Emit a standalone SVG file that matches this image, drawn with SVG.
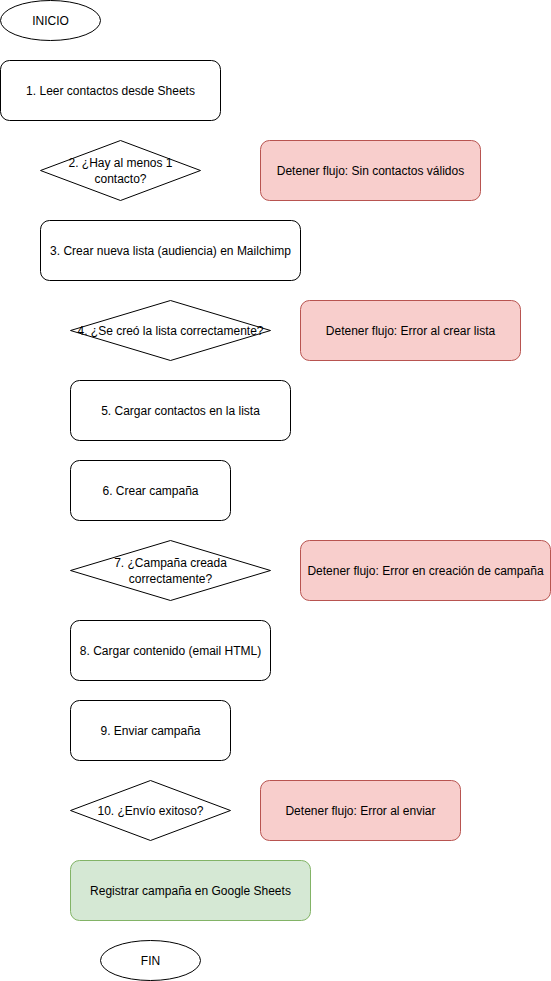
<svg xmlns="http://www.w3.org/2000/svg" width="551" height="981" viewBox="0 0 551 981">
<style>
.n{fill:#ffffff;stroke:#000000;stroke-width:1}
.r{fill:#f8cecc;stroke:#b85450;stroke-width:1}
.g{fill:#d5e8d4;stroke:#82b366;stroke-width:1}
text{font-family:"Liberation Sans",Arial,Helvetica,sans-serif;font-size:12px;fill:#000000;text-anchor:middle}
</style>
<rect width="551" height="981" fill="#ffffff"/>
<g id="connectors"></g>
<g id="inicio"><ellipse class="n" cx="50.5" cy="20.5" rx="50" ry="20"/><text x="50.5" y="24.5">INICIO</text></g>
<g id="step1"><rect class="n" x="0.5" y="60.5" width="220" height="60" rx="9"/><text x="110.5" y="94.5">1. Leer contactos desde Sheets</text></g>
<g id="step2"><polygon class="n" points="120.5,140.5 200.5,170.5 120.5,200.5 40.5,170.5"/><text x="120.5" y="167">2. ¿Hay al menos 1</text><text x="120.5" y="183">contacto?</text></g>
<g id="stop1"><rect class="r" x="260.5" y="140.5" width="220" height="60" rx="9"/><text x="370.5" y="174.5">Detener flujo: Sin contactos válidos</text></g>
<g id="step3"><rect class="n" x="40.5" y="220.5" width="260" height="60" rx="9"/><text x="170.5" y="254.5">3. Crear nueva lista (audiencia) en Mailchimp</text></g>
<g id="step4"><polygon class="n" points="170.5,300.5 270.5,330.5 170.5,360.5 70.5,330.5"/><text x="170.5" y="334.5">4. ¿Se creó la lista correctamente?</text></g>
<g id="stop2"><rect class="r" x="300.5" y="300.5" width="220" height="60" rx="9"/><text x="410.5" y="334.5">Detener flujo: Error al crear lista</text></g>
<g id="step5"><rect class="n" x="70.5" y="380.5" width="220" height="60" rx="9"/><text x="180.5" y="414.5">5. Cargar contactos en la lista</text></g>
<g id="step6"><rect class="n" x="70.5" y="460.5" width="160" height="60" rx="9"/><text x="150.5" y="494.5">6. Crear campaña</text></g>
<g id="step7"><polygon class="n" points="170.5,540.5 270.5,570.5 170.5,600.5 70.5,570.5"/><text x="170.5" y="567">7. ¿Campaña creada</text><text x="170.5" y="583">correctamente?</text></g>
<g id="stop3"><rect class="r" x="300.5" y="540.5" width="250" height="60" rx="9"/><text x="425.5" y="574.5">Detener flujo: Error en creación de campaña</text></g>
<g id="step8"><rect class="n" x="70.5" y="620.5" width="200" height="60" rx="9"/><text x="170.5" y="654.5">8. Cargar contenido (email HTML)</text></g>
<g id="step9"><rect class="n" x="70.5" y="700.5" width="160" height="60" rx="9"/><text x="150.5" y="734.5">9. Enviar campaña</text></g>
<g id="step10"><polygon class="n" points="150.5,780.5 230.5,810.5 150.5,840.5 70.5,810.5"/><text x="150.5" y="814.5">10. ¿Envío exitoso?</text></g>
<g id="stop4"><rect class="r" x="260.5" y="780.5" width="200" height="60" rx="9"/><text x="360.5" y="814.5">Detener flujo: Error al enviar</text></g>
<g id="register"><rect class="g" x="70.5" y="860.5" width="240" height="60" rx="9"/><text x="190.5" y="894.5">Registrar campaña en Google Sheets</text></g>
<g id="fin"><ellipse class="n" cx="150.5" cy="960.5" rx="50" ry="20"/><text x="150.5" y="964.5">FIN</text></g>
</svg>
